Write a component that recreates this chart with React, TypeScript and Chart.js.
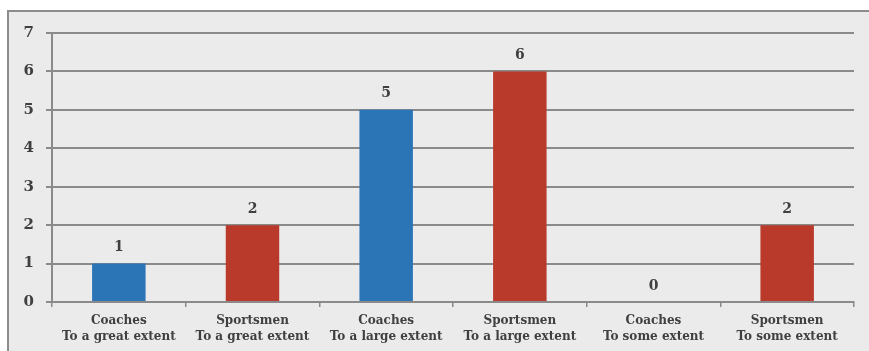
import React, { useEffect, useRef } from "react";
import { Chart, registerables } from "chart.js";

Chart.register(...registerables);

// Respondent group and extent, one entry per bar
const groups = ["Coaches", "Sportsmen", "Coaches", "Sportsmen", "Coaches", "Sportsmen"];
const extents = [
  "To a great extent",
  "To a great extent",
  "To a large extent",
  "To a large extent",
  "To some extent",
  "To some extent",
];
const counts = [1, 2, 5, 6, 0, 2];
const yTicks = [0, 1, 2, 3, 4, 5, 6, 7];

const groupColors: Record<string, string> = {
  Coaches: "#2b74b6",
  Sportsmen: "#b9392a",
};

const SERIF = "'DejaVu Serif', 'Liberation Serif', serif";
const TEXT = "#404040";
const LINE = "#8a8a8a";

// Light grey panel with a frame on its top and left edges
const panelPlugin = {
  id: "panel",
  beforeDraw(chart: Chart) {
    const { ctx, width, height } = chart;
    ctx.save();
    ctx.fillStyle = "#ffffff";
    ctx.fillRect(0, 0, width, height);
    ctx.fillStyle = "#ebebeb";
    ctx.fillRect(7, 10, width - 7, height - 10);
    ctx.strokeStyle = "#8c8c8c";
    ctx.lineWidth = 2;
    ctx.beginPath();
    ctx.moveTo(8, height);
    ctx.lineTo(8, 11);
    ctx.lineTo(width, 11);
    ctx.stroke();
    ctx.restore();
  },
};

// Value printed above each bar
const valueLabelPlugin = {
  id: "valueLabels",
  afterDatasetsDraw(chart: Chart) {
    const { ctx } = chart;
    const meta = chart.getDatasetMeta(0);
    ctx.save();
    ctx.fillStyle = TEXT;
    ctx.font = `bold 14px ${SERIF}`;
    ctx.textAlign = "center";
    ctx.textBaseline = "bottom";
    meta.data.forEach((bar: any, i: number) => {
      ctx.fillText(String(counts[i]), bar.x, bar.y - 9);
    });
    ctx.restore();
  },
};

export default function App() {
  const canvasRef = useRef<HTMLCanvasElement | null>(null);

  useEffect(() => {
    if (!canvasRef.current) return;
    const chart = new Chart(canvasRef.current, {
      type: "bar",
      data: {
        labels: groups.map((g, i) => [g, extents[i]]),
        datasets: [
          {
            data: counts,
            backgroundColor: groups.map((g) => groupColors[g]),
            barPercentage: 0.4,
            categoryPercentage: 1,
          },
        ],
      },
      options: {
        responsive: false,
        animation: false,
        devicePixelRatio: 1,
        layout: { padding: { left: 0, right: 15, top: 33, bottom: 0 } },
        plugins: {
          legend: { display: false },
          tooltip: { enabled: false },
        },
        scales: {
          x: {
            offset: true,
            grid: {
              offset: true,
              drawOnChartArea: false,
              color: LINE,
              lineWidth: 1.5,
              tickLength: 5,
            },
            border: { color: LINE, width: 2 },
            ticks: {
              color: TEXT,
              font: { family: SERIF, size: 12, weight: "bold", lineHeight: 1.4 },
              padding: 5,
              maxRotation: 0,
              autoSkip: false,
            },
            afterFit(scale: any) {
              scale.height = 49;
            },
          },
          y: {
            min: 0,
            max: 7,
            afterBuildTicks(scale: any) {
              scale.ticks = yTicks.map((v) => ({ value: v }));
            },
            grid: {
              color: LINE,
              lineWidth: 2,
              tickLength: 6,
            },
            border: { color: LINE, width: 2 },
            ticks: {
              color: TEXT,
              font: { family: SERIF, size: 15, weight: "bold" },
              padding: 12,
            },
            afterFit(scale: any) {
              scale.width = 52;
            },
          },
        },
      },
      plugins: [panelPlugin, valueLabelPlugin],
    });
    return () => chart.destroy();
  }, []);

  return (
    <div style={{ position: "absolute", left: 0, top: 0, width: 869, height: 351 }}>
      <canvas ref={canvasRef} width={869} height={351} />
    </div>
  );
}
